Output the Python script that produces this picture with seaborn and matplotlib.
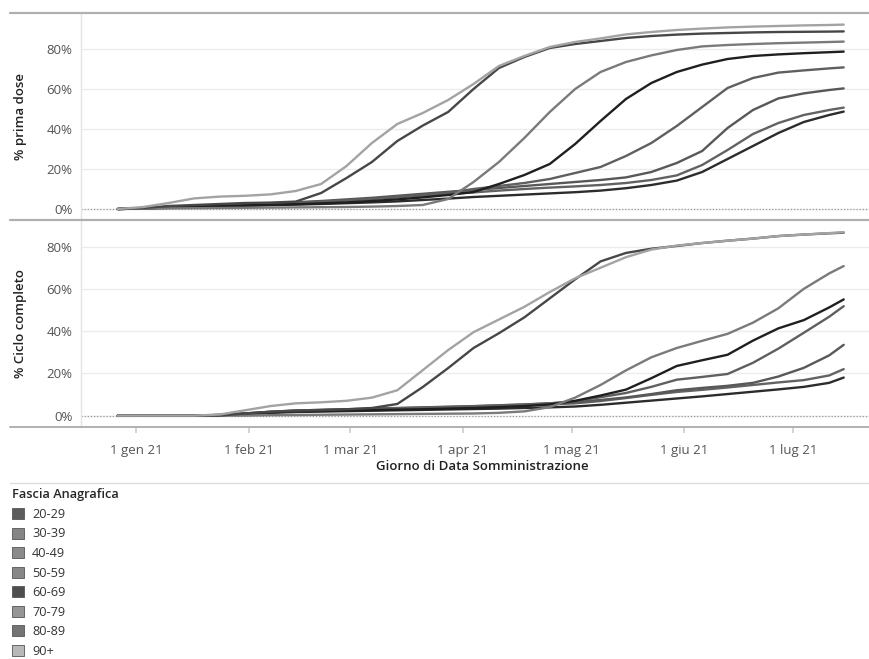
import matplotlib
matplotlib.use("Agg")
import matplotlib.pyplot as plt
import matplotlib.dates as mdates
from matplotlib.lines import Line2D
from matplotlib.patches import Patch
from matplotlib.ticker import FuncFormatter, FixedLocator
import seaborn as sns
import pandas as pd

# ---------------- data ----------------
dates = ["2020-12-27", "2021-01-03", "2021-01-10", "2021-01-17", "2021-01-24",
         "2021-01-31", "2021-02-07", "2021-02-14", "2021-02-21", "2021-02-28",
         "2021-03-07", "2021-03-14", "2021-03-21", "2021-03-28", "2021-04-04",
         "2021-04-11", "2021-04-18", "2021-04-25", "2021-05-02", "2021-05-09",
         "2021-05-16", "2021-05-23", "2021-05-30", "2021-06-06", "2021-06-13",
         "2021-06-20", "2021-06-27", "2021-07-04", "2021-07-11", "2021-07-15"]

groups = ["20-29", "30-39", "40-49", "50-59", "60-69", "70-79", "80-89", "90+"]

# % prima dose
prima_20_29 = [0, 0.2, 0.6, 1.0, 1.3, 1.6, 1.9, 2.2, 2.5, 2.9, 3.3, 3.8, 4.5, 5.2, 6.0,
               6.6, 7.2, 7.8, 8.4, 9.2, 10.4, 12.0, 14.2, 18.5, 25.0, 31.5, 38.0, 43.5, 47.0, 48.7]
prima_30_39 = [0, 0.3, 0.8, 1.2, 1.7, 2.1, 2.6, 3.1, 3.7, 4.4, 5.1, 5.9, 6.7, 7.5, 8.3,
               9.2, 10.0, 10.7, 11.3, 12.0, 13.0, 14.5, 16.8, 22.0, 29.5, 37.5, 43.0, 47.0, 49.5, 50.7]
prima_40_49 = [0, 0.3, 0.8, 1.3, 1.8, 2.3, 2.8, 3.4, 4.0, 4.8, 5.6, 6.6, 7.6, 8.6, 9.5,
               10.5, 11.5, 12.5, 13.5, 14.5, 15.8, 18.5, 23.0, 29.0, 40.5, 49.5, 55.3, 57.8, 59.5, 60.3]
prima_50_59 = [0, 0.3, 0.8, 1.3, 1.8, 2.2, 2.6, 3.0, 3.6, 4.3, 5.0, 6.0, 7.0, 8.2, 10.0,
               11.5, 13.0, 15.0, 18.0, 21.0, 26.5, 33.0, 41.5, 51.0, 60.5, 65.5, 68.2, 69.3, 70.3, 70.8]
prima_60_69 = [0, 0.3, 0.8, 1.2, 1.5, 1.8, 2.1, 2.4, 2.8, 3.3, 4.0, 4.8, 5.8, 7.0, 8.5,
               12.5, 17.0, 22.5, 32.5, 44.0, 55.0, 63.0, 68.5, 72.2, 75.0, 76.5, 77.3, 77.9, 78.4, 78.7]
prima_70_79 = [0, 0.2, 0.3, 0.4, 0.5, 0.6, 0.7, 0.8, 0.9, 1.0, 1.2, 1.5, 2.0, 5.0, 13.5,
               23.5, 35.5, 48.5, 60.0, 68.5, 73.5, 76.8, 79.5, 81.3, 82.0, 82.5, 82.9, 83.2, 83.5, 83.7]
prima_80_89 = [0, 0.5, 1.5, 2.0, 2.5, 3.0, 3.2, 3.7, 8.0, 15.5, 23.5, 34.0, 41.7, 48.5, 60.0,
               70.5, 76.0, 80.5, 82.5, 84.0, 85.5, 86.5, 87.2, 87.7, 88.0, 88.3, 88.5, 88.6, 88.7, 88.8]
prima_90 = [0, 1.0, 3.0, 5.3, 6.2, 6.6, 7.3, 9.0, 12.5, 21.5, 33.0, 42.5, 48.0, 54.5, 62.5,
            71.5, 76.5, 81.0, 83.5, 85.3, 87.3, 88.5, 89.5, 90.2, 90.8, 91.2, 91.5, 91.8, 92.0, 92.2]

# % ciclo completo
ciclo_20_29 = [0, 0, 0, 0, 0.2, 0.7, 1.3, 1.7, 1.9, 2.1, 2.3, 2.5, 2.7, 2.9, 3.1,
               3.3, 3.6, 3.9, 4.3, 5.1, 6.1, 7.1, 8.1, 9.1, 10.2, 11.3, 12.4, 13.6, 15.5, 18.0]
ciclo_30_39 = [0, 0, 0, 0, 0.3, 0.9, 1.6, 2.1, 2.4, 2.7, 3.0, 3.3, 3.6, 3.9, 4.2,
               4.5, 4.9, 5.3, 5.8, 6.9, 8.3, 9.8, 11.2, 12.2, 13.3, 14.5, 15.7, 16.8, 19.0, 22.0]
ciclo_40_49 = [0, 0, 0, 0, 0.3, 1.0, 1.8, 2.4, 2.7, 3.0, 3.3, 3.6, 3.9, 4.2, 4.5,
               4.9, 5.3, 5.8, 6.4, 7.4, 8.6, 10.2, 12.0, 13.1, 14.1, 15.5, 18.5, 22.6, 28.5, 33.5]
ciclo_50_59 = [0, 0, 0, 0, 0.3, 1.0, 1.8, 2.4, 2.7, 3.0, 3.2, 3.5, 3.8, 4.1, 4.4,
               4.8, 5.2, 5.8, 6.8, 8.7, 10.7, 13.6, 17.0, 18.3, 19.7, 25.0, 31.7, 39.2, 46.8, 51.8]
ciclo_60_69 = [0, 0, 0, 0, 0.2, 0.8, 1.5, 2.0, 2.2, 2.4, 2.6, 2.8, 3.0, 3.3, 3.6,
               4.0, 4.5, 5.3, 7.0, 9.5, 12.3, 17.7, 23.5, 26.2, 28.8, 35.5, 41.3, 45.2, 51.2, 55.0]
ciclo_70_79 = [0, 0, 0, 0, 0, 0, 0.2, 0.3, 0.4, 0.5, 0.6, 0.7, 0.8, 0.9, 1.0,
               1.3, 2.0, 4.0, 8.5, 14.5, 21.4, 27.6, 32.0, 35.4, 38.7, 44.0, 50.8, 60.0, 67.3, 70.8]
ciclo_80_89 = [0, 0, 0, 0, 0, 1.0, 1.8, 2.3, 2.6, 3.0, 3.6, 5.5, 13.5, 22.5, 32.0,
               39.0, 46.5, 55.5, 64.5, 73.0, 77.0, 79.0, 80.3, 81.7, 82.8, 83.8, 85.0, 85.7, 86.3, 86.6]
ciclo_90 = [0, 0, 0, 0, 0.5, 2.5, 4.5, 5.8, 6.3, 7.0, 8.5, 12.0, 21.5, 31.0, 39.5,
            45.5, 51.5, 58.5, 65.0, 70.0, 75.0, 78.6, 80.5, 81.7, 82.8, 83.8, 85.0, 85.7, 86.4, 86.8]

prima = [prima_20_29, prima_30_39, prima_40_49, prima_50_59,
         prima_60_69, prima_70_79, prima_80_89, prima_90]
ciclo = [ciclo_20_29, ciclo_30_39, ciclo_40_49, ciclo_50_59,
         ciclo_60_69, ciclo_70_79, ciclo_80_89, ciclo_90]

month_it = {1: "gen", 2: "feb", 3: "mar", 4: "apr", 5: "mag", 6: "giu", 7: "lug"}
tick_dates = ["2021-01-01", "2021-02-01", "2021-03-01", "2021-04-01",
              "2021-05-01", "2021-06-01", "2021-07-01"]

# ---------------- styling ----------------
line_colors = {"20-29": "#2c2c2c", "30-39": "#626262", "40-49": "#585858",
               "50-59": "#5f5f5f", "60-69": "#1f1f1f", "70-79": "#7a7a7a",
               "80-89": "#474747", "90+": "#a3a3a3"}
legend_colors = {"20-29": "#5c5c5c", "30-39": "#858585", "40-49": "#8a8a8a",
                 "50-59": "#878787", "60-69": "#4f4f4f", "70-79": "#959595",
                 "80-89": "#747474", "90+": "#b8b8b8"}

rows = []
for g, p, c in zip(groups, prima, ciclo):
    for d, vp, vc in zip(dates, p, c):
        rows.append({"date": pd.Timestamp(d), "group": g, "prima": vp, "ciclo": vc})
df = pd.DataFrame(rows)

sns.set_theme(style="white")
plt.rcParams['font.family'] = ['Open Sans', 'DejaVu Sans']

W, H = 870, 659
fig = plt.figure(figsize=(W / 100, H / 100), dpi=100)

def fx(px):
    return px / W

def fy(py):
    return 1 - py / H

ax1 = fig.add_axes([fx(81), fy(220), fx(870) - fx(81), fy(13) - fy(220)])
ax2 = fig.add_axes([fx(81), fy(427), fx(870) - fx(81), fy(220) - fy(427)])

xmin = pd.Timestamp("2020-12-16 20:00")
xmax = pd.Timestamp("2021-07-22 06:00")

for ax, col, ylim, ylabel in [(ax1, "prima", (-5.5, 98), "% prima dose"),
                              (ax2, "ciclo", (-5.4, 92.6), "% Ciclo completo")]:
    sns.lineplot(data=df, x="date", y=col, hue="group", hue_order=groups,
                 palette=line_colors, linewidth=1.7, legend=False, ax=ax)
    ax.set_xlim(xmin, xmax)
    ax.set_ylim(*ylim)
    ax.yaxis.set_major_locator(FixedLocator([0, 20, 40, 60, 80]))
    ax.yaxis.set_major_formatter(FuncFormatter(lambda v, p: f"{int(v)}%"))
    ax.grid(axis="y", color="#ececec", linewidth=1.0)
    ax.grid(axis="x", visible=False)
    ax.set_axisbelow(True)
    ax.axhline(0, color="#9a9a9a", linewidth=0.9, linestyle=(0, (1, 1.5)), zorder=1)
    for s in ["top", "right", "bottom"]:
        ax.spines[s].set_visible(False)
    ax.spines["left"].set_color("#e4e4e4")
    ax.spines["left"].set_linewidth(1.0)
    ax.tick_params(axis="y", labelsize=9.5, labelcolor="#555555", length=0, pad=6)
    ax.set_ylabel(ylabel, fontsize=9.5, fontweight="semibold", color="#222222", labelpad=14)
    ax.set_xlabel("")

ax1.tick_params(axis="x", bottom=False, labelbottom=False)
ax2.xaxis.set_major_locator(FixedLocator([mdates.date2num(pd.Timestamp(t)) for t in tick_dates]))
ax2.xaxis.set_major_formatter(FuncFormatter(
    lambda v, p: f"{mdates.num2date(v).day} {month_it[mdates.num2date(v).month]} 21"))
ax2.tick_params(axis="x", bottom=True, length=4, color="#cfcfcf", labelsize=9.5,
                labelcolor="#555555", pad=8)

fig.text(fx(482), fy(466), "Giorno di Data Somministrazione", ha="center", va="center",
         fontsize=9.5, fontweight="semibold", color="#222222")

# separator lines
for y, c, lw in [(13, "#b0b0b0", 1.6), (220, "#b0b0b0", 1.6), (427, "#b0b0b0", 1.4), (483, "#dcdcdc", 1.0)]:
    fig.add_artist(Line2D([fx(10), 1.0], [fy(y), fy(y)], color=c, linewidth=lw))

# legend
handles = [Patch(facecolor=legend_colors[g], edgecolor="#555555", linewidth=0.6, label=g)
           for g in groups]
leg = fig.legend(handles=handles, loc="upper left", bbox_to_anchor=(fx(4), fy(480)),
                 title="Fascia Anagrafica", frameon=False, fontsize=9.2,
                 title_fontproperties={"size": 9.2, "weight": "semibold"},
                 handlelength=0.95, handleheight=0.95, handletextpad=0.6,
                 labelspacing=0.515, borderpad=0.15, alignment="left")
for t in leg.get_texts():
    t.set_color("#333333")

fig.savefig("out.png", dpi=100, facecolor="white")
